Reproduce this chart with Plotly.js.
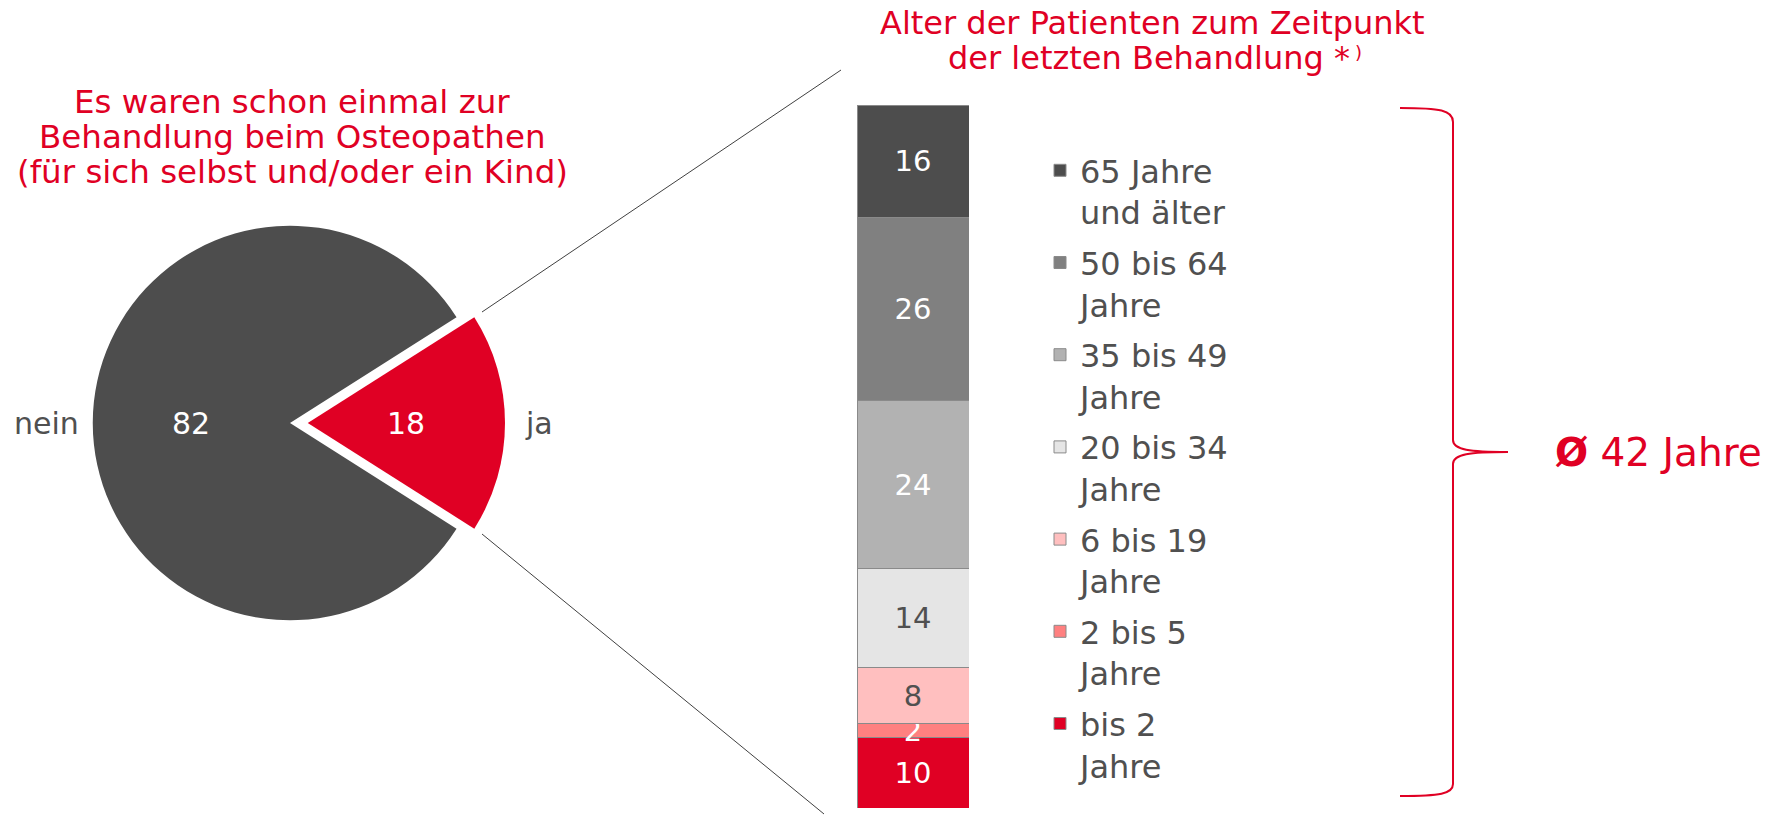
<!DOCTYPE html>
<html><head><meta charset="utf-8">
<script src="https://cdn.plot.ly/plotly-3.0.1.min.js"></script>
<style>html,body{margin:0;padding:0;background:#fff}</style>
</head><body><div id="chart" style="width:1777px;height:816px"></div>
<script>
// ---- data ----
const pieLabels = ['ja', 'nein'];
const pieValues = [18, 82];
const barCategory = ['Alter'];
const ageGroups = ['bis 2<br>Jahre', '2 bis 5<br>Jahre', '6 bis 19<br>Jahre', '20 bis 34<br>Jahre', '35 bis 49<br>Jahre', '50 bis 64<br>Jahre', '65 Jahre<br>und älter'];
const ageShares = [10, 2, 8, 14, 24, 26, 16];
const pieTitleLines = ['Es waren schon einmal zur', 'Behandlung beim Osteopathen', '(für sich selbst und/oder ein Kind)'];
const barTitleLines = ['Alter der Patienten zum Zeitpunkt', 'der letzten Behandlung *'];
const barTitleMark = ')';
const averageLabel = '<b>Ø</b> 42 Jahre';

// ---- styles ----
const RED = '#e00024', GRAY = '#505050';
const ageColors = ['#e00024', '#ff8080', '#ffbfbf', '#e5e5e5', '#b2b2b2', '#808080', '#4d4d4d'];
const ageTextColors = ['#ffffff', '#ffffff', GRAY, GRAY, '#ffffff', '#ffffff', '#ffffff'];
const pieColors = [RED, '#4d4d4d'];
const FONT = 'DejaVu Sans, Verdana, sans-serif';

const W = 1777, H = 816;
const px = x => x / W;
const py = y => 1 - y / H;
const pt = (x, y) => px(x) + ',' + py(y);

// pie geometry (pixels)
const PIE_CX = 290, PIE_CY = 423, PIE_HALF = 215, PULL = 0.09;
const PIE_R = 2 * PIE_HALF / (2 + 2 * PULL);
const pulls = [PULL, 0];
const total = pieValues.reduce((a, b) => a + b, 0);
const rot = 90 - 180 * pieValues[0] / total;

const pieDomain = {x: [px(PIE_CX - PIE_HALF), px(PIE_CX + PIE_HALF)], y: [py(PIE_CY + PIE_HALF), py(PIE_CY - PIE_HALF)]};

const traces = [];
traces.push({
  type: 'pie', labels: pieLabels, values: pieValues, sort: false,
  direction: 'clockwise', rotation: rot, pull: pulls,
  marker: {colors: pieColors, line: {width: 0}},
  textinfo: 'none',
  domain: pieDomain, showlegend: false, hoverinfo: 'none'
});
ageGroups.forEach((g, i) => {
  traces.push({
    type: 'bar', x: barCategory, y: [ageShares[i]], name: g,
    text: [String(ageShares[i])], textposition: 'inside', insidetextanchor: 'middle',
    textangle: 0, constraintext: 'none',
    textfont: {size: 29, color: ageTextColors[i], family: FONT},
    marker: {color: ageColors[i], line: {color: '#8a8a8a', width: 1}},
    legendgroup: 'g' + i, legendrank: ageGroups.length - i, hoverinfo: 'none'
  });
});

const braceTop = 'M' + pt(1400, 108) + ' C' + pt(1440, 108) + ' ' + pt(1453, 110) + ' ' + pt(1453, 122) +
  ' L' + pt(1453, 440) + ' C' + pt(1453, 450) + ' ' + pt(1470, 452) + ' ' + pt(1508, 452);
const braceBottom = 'M' + pt(1508, 452) + ' C' + pt(1470, 452) + ' ' + pt(1453, 454) + ' ' + pt(1453, 464) +
  ' L' + pt(1453, 784) + ' C' + pt(1453, 794) + ' ' + pt(1440, 796) + ' ' + pt(1400, 796);

const annotations = [];
// pie value labels (inside) and category labels (outside)
let cum = 0;
pieValues.forEach((v, i) => {
  const mid = (rot + 360 * (cum + v / 2) / total) * Math.PI / 180;
  cum += v;
  const sx = Math.sin(mid), sy = -Math.cos(mid);
  const ox = PIE_CX + sx * pulls[i] * PIE_R, oy = PIE_CY + sy * pulls[i] * PIE_R;
  annotations.push({
    xref: 'paper', yref: 'paper', x: px(ox + sx * 0.5 * PIE_R), y: py(oy + sy * 0.5 * PIE_R),
    text: String(v), showarrow: false, xanchor: 'center', yanchor: 'middle',
    font: {size: 30, color: '#ffffff', family: FONT}
  });
  const lx = ox + sx * (PIE_R + 16);
  annotations.push({
    xref: 'paper', yref: 'paper', x: px(sx >= 0 ? lx + 2 : lx + 4), y: py(oy + sy * (PIE_R + 16)),
    text: pieLabels[i], showarrow: false, xanchor: sx >= 0 ? 'left' : 'right', yanchor: 'middle',
    font: {size: 30, color: GRAY, family: FONT}
  });
});
pieTitleLines.forEach((t, i) => annotations.push({
  xref: 'paper', yref: 'paper', x: px(292), y: py(102 + 35 * i), text: t, showarrow: false,
  xanchor: 'center', yanchor: 'middle', font: {size: 32.5, color: RED, family: FONT}
}));
annotations.push({
  xref: 'paper', yref: 'paper', x: px(1152), y: py(23), text: barTitleLines[0], showarrow: false,
  xanchor: 'center', yanchor: 'middle', font: {size: 32, color: RED, family: FONT}
});
annotations.push({
  xref: 'paper', yref: 'paper', x: px(1352), y: py(58), text: barTitleLines[1], showarrow: false,
  xanchor: 'right', yanchor: 'middle', font: {size: 32, color: RED, family: FONT}
});
annotations.push({
  xref: 'paper', yref: 'paper', x: px(1353), y: py(53), text: barTitleMark, showarrow: false,
  xanchor: 'left', yanchor: 'middle', font: {size: 18, color: RED, family: FONT}
});
annotations.push({
  xref: 'paper', yref: 'paper', x: px(1553), y: py(452), text: averageLabel, showarrow: false,
  xanchor: 'left', yanchor: 'middle', font: {size: 39, color: RED, family: FONT}
});

const layout = {
  width: W, height: H, margin: {l: 0, r: 0, t: 0, b: 0},
  paper_bgcolor: '#ffffff', plot_bgcolor: 'rgba(0,0,0,0)',
  font: {family: FONT, color: GRAY},
  barmode: 'stack', bargap: 0,
  xaxis: {domain: [px(857), px(969)], visible: false, fixedrange: true},
  yaxis: {domain: [py(808), py(105)], range: [0, 100], visible: false, fixedrange: true},
  showlegend: true,
  legend: {x: px(1040), y: py(143), xanchor: 'left', yanchor: 'top', traceorder: 'grouped',
    valign: 'top', font: {size: 32, color: GRAY, family: FONT}, tracegroupgap: 6,
    bgcolor: 'rgba(0,0,0,0)'},
  shapes: [
    {type: 'line', xref: 'paper', yref: 'paper', x0: px(482), y0: py(312), x1: px(841), y1: py(70), line: {color: '#404040', width: 1}},
    {type: 'line', xref: 'paper', yref: 'paper', x0: px(482), y0: py(534), x1: px(824), y1: py(814), line: {color: '#404040', width: 1}},
    {type: 'path', xref: 'paper', yref: 'paper', path: braceTop, line: {color: RED, width: 2}},
    {type: 'path', xref: 'paper', yref: 'paper', path: braceBottom, line: {color: RED, width: 2}}
  ],
  annotations: annotations
};

Plotly.newPlot('chart', traces, layout, {staticPlot: true, displayModeBar: false});
</script>
</body></html>
